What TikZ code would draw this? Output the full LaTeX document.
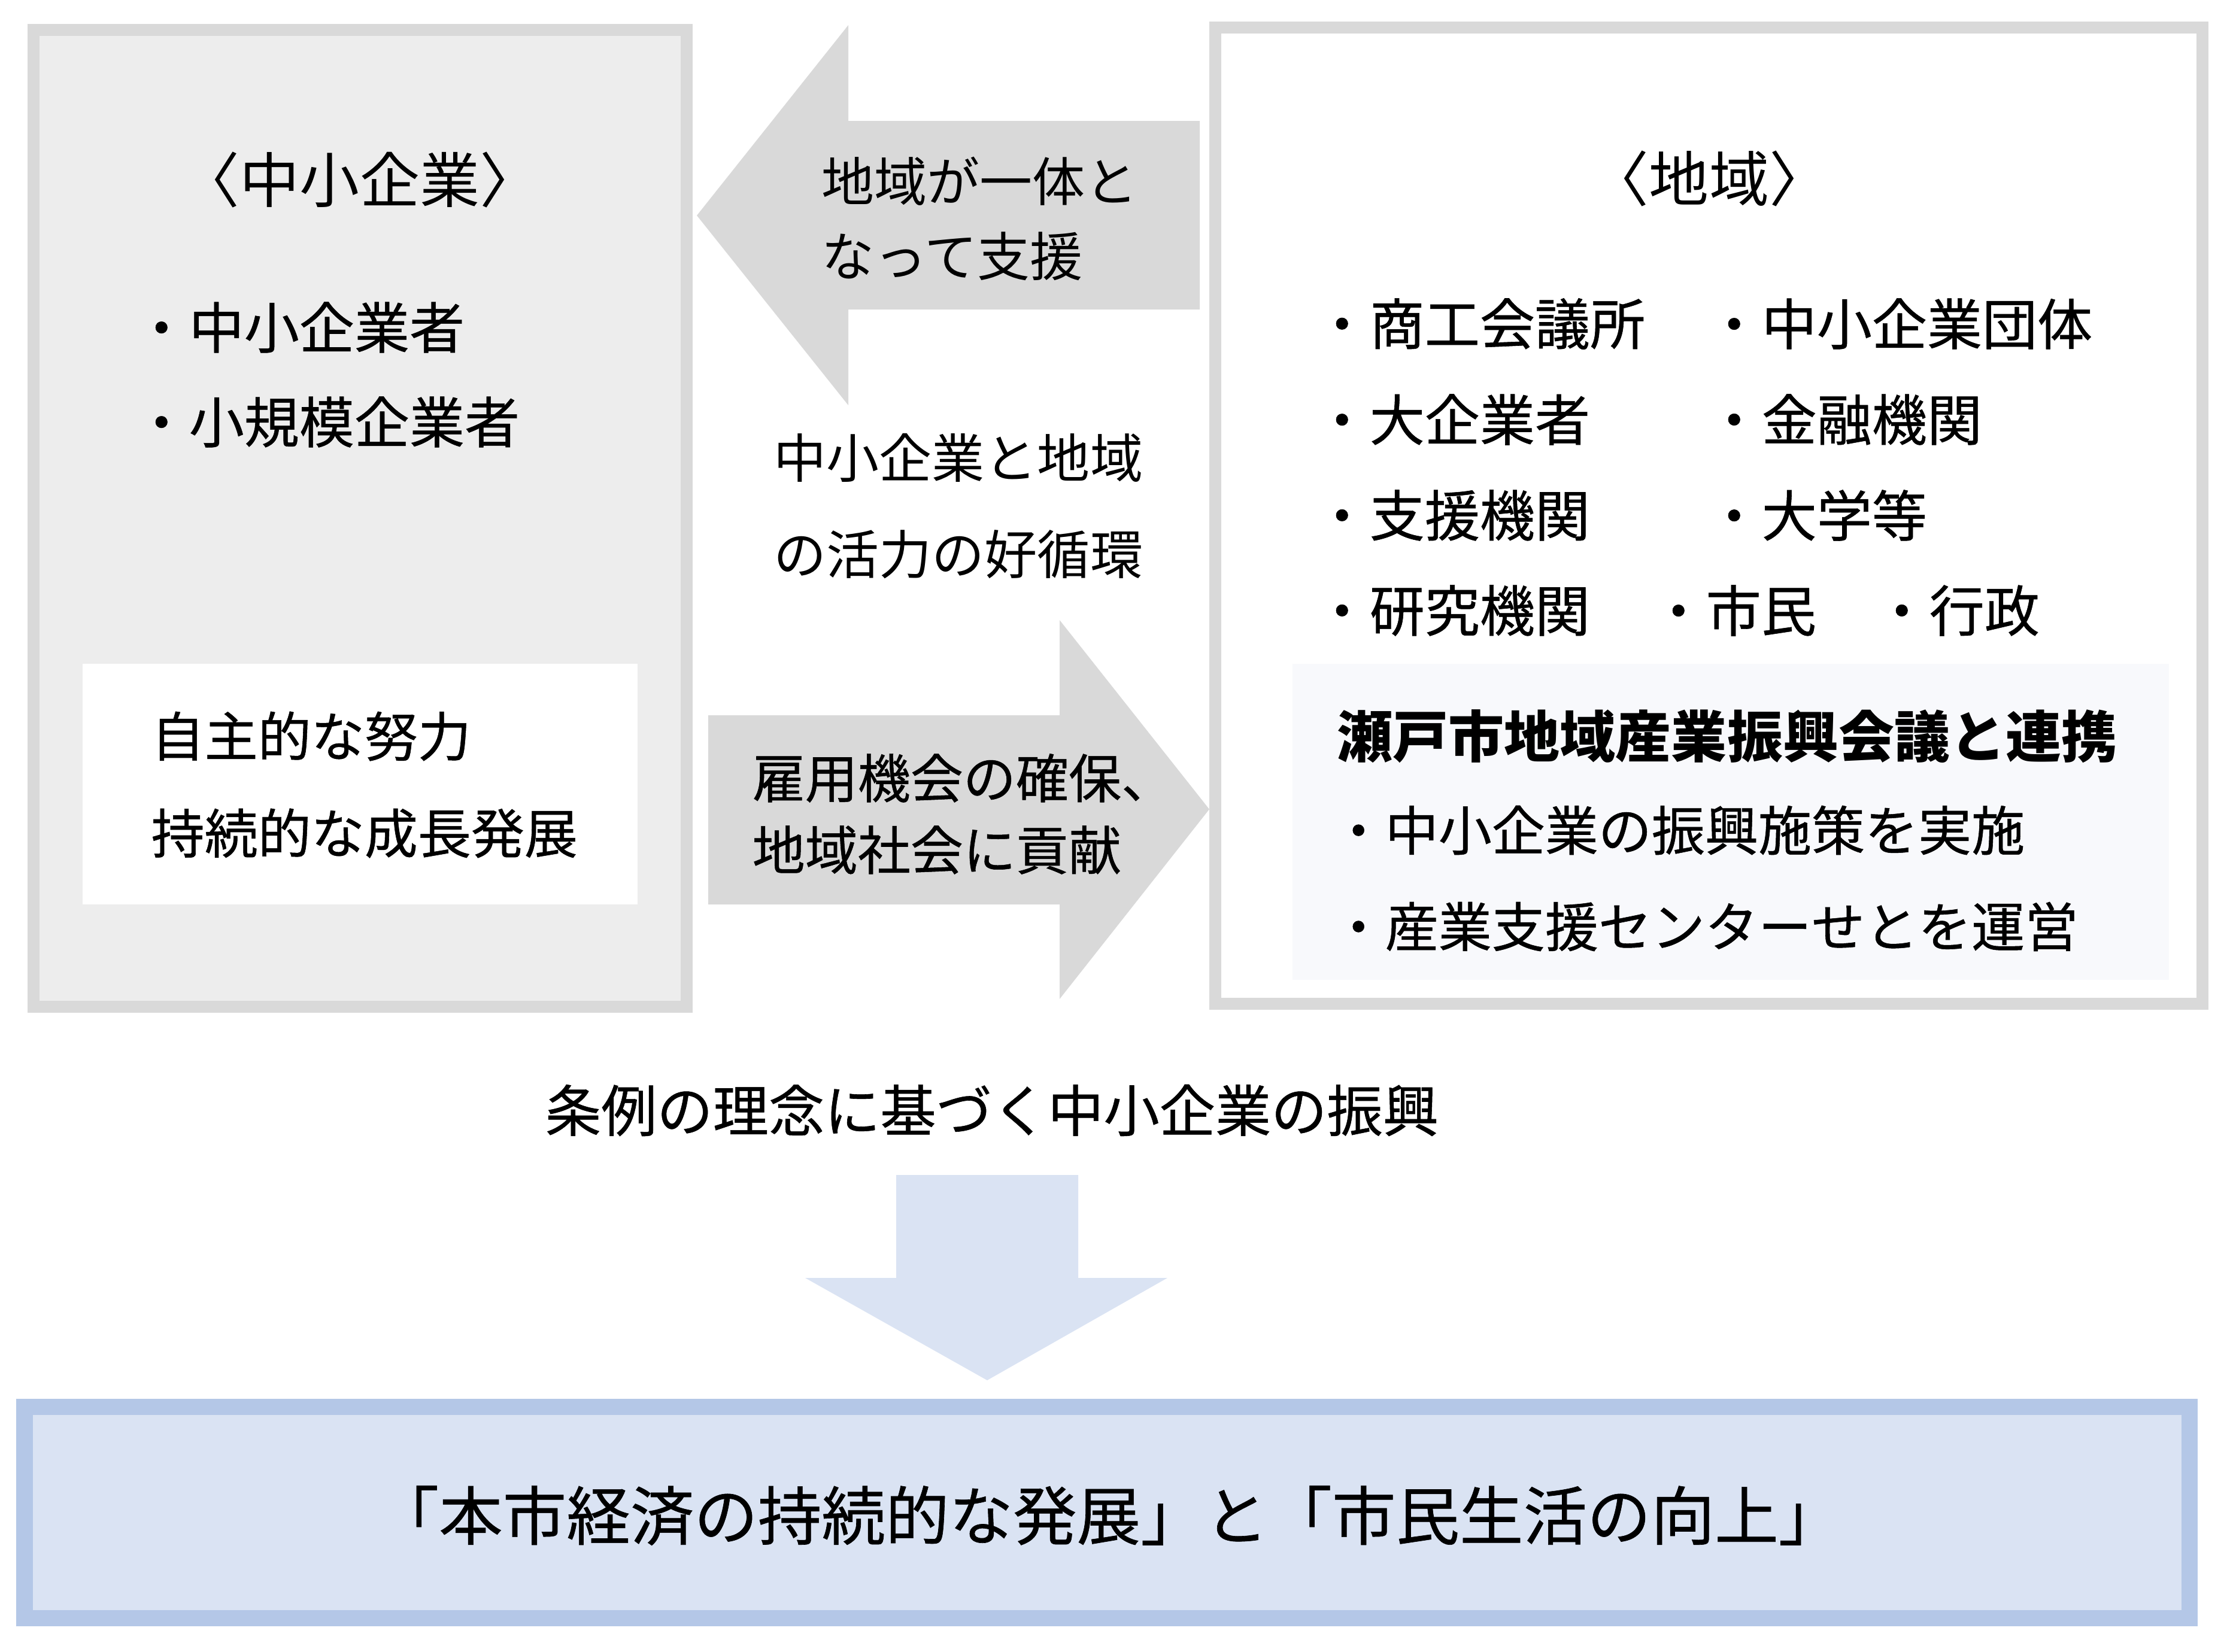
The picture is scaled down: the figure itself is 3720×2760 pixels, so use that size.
\documentclass[tikz,border=0pt]{standalone}
\usepackage{fontspec}
\setmainfont{Noto Sans CJK JP}
\newfontfamily\medfont{Noto Sans CJK JP}[FakeBold=0.6]
\definecolor{boxgray}{HTML}{EDEDED}
\definecolor{edgegray}{HTML}{D9D9D9}
\definecolor{arrowgray}{HTML}{D9D9D9}
\definecolor{paleblue}{HTML}{F8F9FC}
\definecolor{lightblue}{HTML}{DAE3F3}
\definecolor{edgeblue}{HTML}{B4C7E7}
\tikzset{
  panel/.style={line width=5.69pt, draw=edgegray},
  titletext/.style={inner sep=0, font=\fontsize{28.45pt}{34pt}\selectfont},
  itemtext/.style={inner sep=0, anchor=west, font=\medfont\fontsize{26.18pt}{31pt}\selectfont},
  midtext/.style={inner sep=0, anchor=west, font=\fontsize{25.04pt}{30pt}\selectfont},
  midbold/.style={inner sep=0, anchor=west, font=\medfont\fontsize{25.04pt}{30pt}\selectfont},
  boxtext/.style={inner sep=0, anchor=west, font=\medfont\fontsize{25.32pt}{30pt}\selectfont},
  boldtext/.style={inner sep=0, font=\bfseries\fontsize{26.46pt}{31pt}\selectfont},
  ruletext/.style={inner sep=0, font=\medfont\fontsize{26.52pt}{31pt}\selectfont},
  bigtext/.style={inner sep=0, font=\medfont\fontsize{30.3pt}{36pt}\selectfont},
  grayarrow/.style={fill=arrowgray, draw=none},
  bluearrow/.style={fill=lightblue, draw=none}
}
\begin{document}
\begin{tikzpicture}[x=0.01cm, y=-0.01cm]
\useasboundingbox (0,0) rectangle (3720,2760);
\fill[white] (0,0) rectangle (3720,2760);

% left panel
\draw[panel, fill=boxgray] (56,50) rectangle (1147,1682);
\fill[white] (138,1109) rectangle (1065,1511);
% right panel
\draw[panel, fill=white] (2030,46) rectangle (3679,1677);
\fill[paleblue] (2159,1109) rectangle (3623,1637);

% arrows
\fill[grayarrow] (1164,360) -- (1417,42) -- (1417,202) -- (2004,202) -- (2004,517) -- (1417,517) -- (1417,677) -- cycle;
\fill[grayarrow] (1183,1195) -- (1770,1195) -- (1770,1036) -- (2020,1352) -- (1770,1669) -- (1770,1511) -- (1183,1511) -- cycle;
\fill[bluearrow] (1497,1963) -- (1801,1963) -- (1801,2135) -- (1950,2135) -- (1649,2306) -- (1345,2135) -- (1497,2135) -- cycle;

% bottom box
\draw[line width=7.68pt, draw=edgeblue, fill=lightblue] (41,2350) rectangle (3657,2703);

% left panel texts
\node[titletext] (lt) at (601,300) {〈中小企業〉};
\node[itemtext] (l1) at (223,547) {・中小企業者};
\node[itemtext] (l2) at (223,705) {・小規模企業者};
\node[boxtext] (w1) at (252,1230) {自主的な努力};
\node[boxtext] (w2) at (252,1392) {持続的な成長発展};

% middle texts
\node[midtext] (a1) at (1372,303) {地域が一体と};
\node[midtext] (a2) at (1372,428) {なって支援};
\node[midtext] (m1) at (1292,765) {中小企業と地域};
\node[midtext] (m2) at (1292,926) {の活力の好循環};
\node[midbold] (b1) at (1256,1300) {雇用機会の確保、};
\node[midbold] (b2) at (1256,1420) {地域社会に貢献};

% right panel texts
\node[titletext] (rt) at (2855,298) {〈地域〉};
\node[itemtext] (r11) at (2195,541) {・商工会議所};
\node[itemtext] (r12) at (2850,541) {・中小企業団体};
\node[itemtext] (r21) at (2195,701) {・大企業者};
\node[itemtext] (r22) at (2850,701) {・金融機関};
\node[itemtext] (r31) at (2195,861) {・支援機関};
\node[itemtext] (r32) at (2850,861) {・大学等};
\node[itemtext] (r41) at (2195,1020) {・研究機関};
\node[itemtext] (r42) at (2757,1020) {・市民};
\node[itemtext] (r43) at (3130,1020) {・行政};
\node[boldtext] (c0) at (2885,1230) {瀬戸市地域産業振興会議と連携};
\node[boxtext] (c1) at (2224,1387) {・中小企業の振興施策を実施};
\node[boxtext] (c2) at (2224,1548) {・産業支援センターせとを運営};

% bottom texts
\node[ruletext] (rule) at (1657,1855) {条例の理念に基づく中小企業の振興};
\node[bigtext] (goal) at (1852,2532) {「本市経済の持続的な発展」と「市民生活の向上」};
\end{tikzpicture}
\end{document}
